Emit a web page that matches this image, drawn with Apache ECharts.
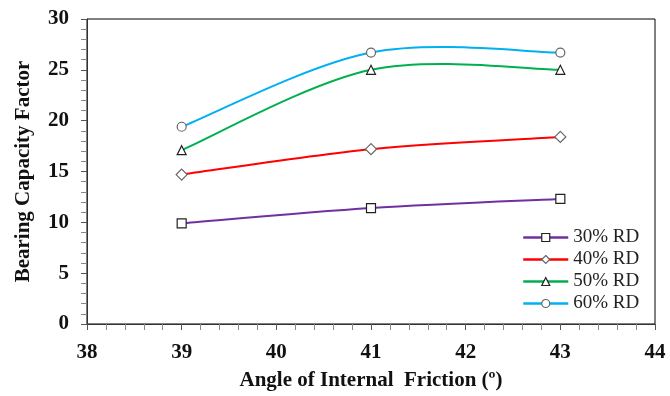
<!DOCTYPE html>
<html>
	<head>
		<meta charset="UTF-8">
		<title></title>
		<script src="https://cdn.jsdelivr.net/npm/echarts@6/dist/echarts.min.js"></script>
	</head>
	<body style="margin:0;background:#fff;">
		<div id="chart" style="width:670px;height:396px;"></div>
		<script>
			// 数据
			var angles = [39, 41, 43];
			var rd30 = [9.9, 11.4, 12.3];
			var rd40 = [14.7, 17.2, 18.4];
			var rd50 = [17.1, 25.0, 25.0];
			var rd60 = [19.4, 26.7, 26.7];
			var names = ['30% RD', '40% RD', '50% RD', '60% RD'];
			var colors = ['#7030A0', '#FF0000', '#00B050', '#00B0F0'];
			var symbols = ['rect', 'diamond', 'triangle', 'circle'];
			var values = [rd30, rd40, rd50, rd60];

			var font = '"Times New Roman", "Liberation Serif", serif';

			function pairs(ys) {
				return angles.map(function (a, i) { return [a, ys[i]]; });
			}

			// excel 风格的平滑曲线 (可以越过数据点)
			function curveSeries(ys, color, z) {
				return {
					type: 'custom',
					silent: true,
					z: z,
					data: [[angles[0], ys[0]]],
					renderItem: function (params, api) {
						var pts = angles.map(function (a, i) { return api.coord([a, ys[i]]); });
						var children = [];
						for (var i = 0; i < pts.length - 1; i++) {
							var p0 = pts[i > 0 ? i - 1 : i];
							var p1 = pts[i];
							var p2 = pts[i + 1];
							var p3 = pts[i + 2 < pts.length ? i + 2 : i + 1];
							children.push({
								type: 'bezierCurve',
								shape: {
									x1: p1[0], y1: p1[1],
									x2: p2[0], y2: p2[1],
									cpx1: p1[0] + (p2[0] - p0[0]) / 6,
									cpy1: p1[1] + (p2[1] - p0[1]) / 6,
									cpx2: p2[0] - (p3[0] - p1[0]) / 6,
									cpy2: p2[1] - (p3[1] - p1[1]) / 6
								},
								style: {stroke: color, lineWidth: 2, fill: null}
							});
						}
						return {type: 'group', children: children};
					}
				};
			}

			var series = [];
			values.forEach(function (ys, k) {
				series.push(curveSeries(ys, colors[k], 1 + k));
			});
			values.forEach(function (ys, k) {
				series.push({
					name: names[k],
					type: 'line',
					data: pairs(ys),
					symbol: symbols[k],
					symbolSize: k == 1 ? 11 : 9,
					showAllSymbol: true,
					lineStyle: {color: colors[k], width: 0, opacity: 0},
					itemStyle: {color: '#fff', borderColor: k == 1 || k == 3 ? '#666' : '#222', borderWidth: 1.2},
					z: 10 + k
				});
			});

			var legendData = names.map(function (n, k) {
				return {
					name: n,
					lineStyle: {color: colors[k], width: 2.5, opacity: 1},
					itemStyle: {color: '#fff', borderColor: k == 1 || k == 3 ? '#666' : '#222', borderWidth: 1.2}
				};
			});

			var option = {
				animation: false,
				color: colors,
				grid: {left: 87, right: 15, top: 19, bottom: 70, show: true, borderColor: '#000', borderWidth: 1},
				legend: {
					orient: 'vertical',
					left: 517,
					top: 223,
					itemWidth: 45,
					itemHeight: 10,
					itemGap: 3,
					textStyle: {fontFamily: font, fontSize: 19, color: '#222'},
					data: legendData
				},
				xAxis: {
					type: 'value',
					min: 38, max: 44, interval: 1,
					name: 'Angle of Internal  Friction (º)',
					nameLocation: 'middle',
					nameGap: 46,
					nameTextStyle: {fontFamily: font, fontSize: 21, fontWeight: 'bold', color: '#111'},
					axisLine: {lineStyle: {color: '#333'}},
					axisTick: {show: true, length: 6, lineStyle: {color: '#555'}},
					minorTick: {show: true, splitNumber: 5, length: 6, lineStyle: {color: '#888'}},
					splitLine: {show: false},
					axisLabel: {fontFamily: font, fontSize: 21, fontWeight: 'bold', color: '#111', margin: 18}
				},
				yAxis: {
					type: 'value',
					min: 0, max: 30, interval: 5,
					name: 'Bearing Capacity Factor',
					nameLocation: 'middle',
					nameGap: 53,
					nameTextStyle: {fontFamily: font, fontSize: 21, fontWeight: 'bold', color: '#111'},
					axisLine: {show: true, lineStyle: {color: '#333'}},
					axisTick: {show: true, length: 6, lineStyle: {color: '#555'}},
					minorTick: {show: true, splitNumber: 5, length: 6, lineStyle: {color: '#888'}},
					splitLine: {show: false},
					axisLabel: {fontFamily: font, fontSize: 21, fontWeight: 'bold', color: '#111', margin: 18}
				},
				series: series
			};

			var myChart = echarts.init(document.getElementById('chart'));
			myChart.setOption(option, true);
		</script>
	</body>
</html>
